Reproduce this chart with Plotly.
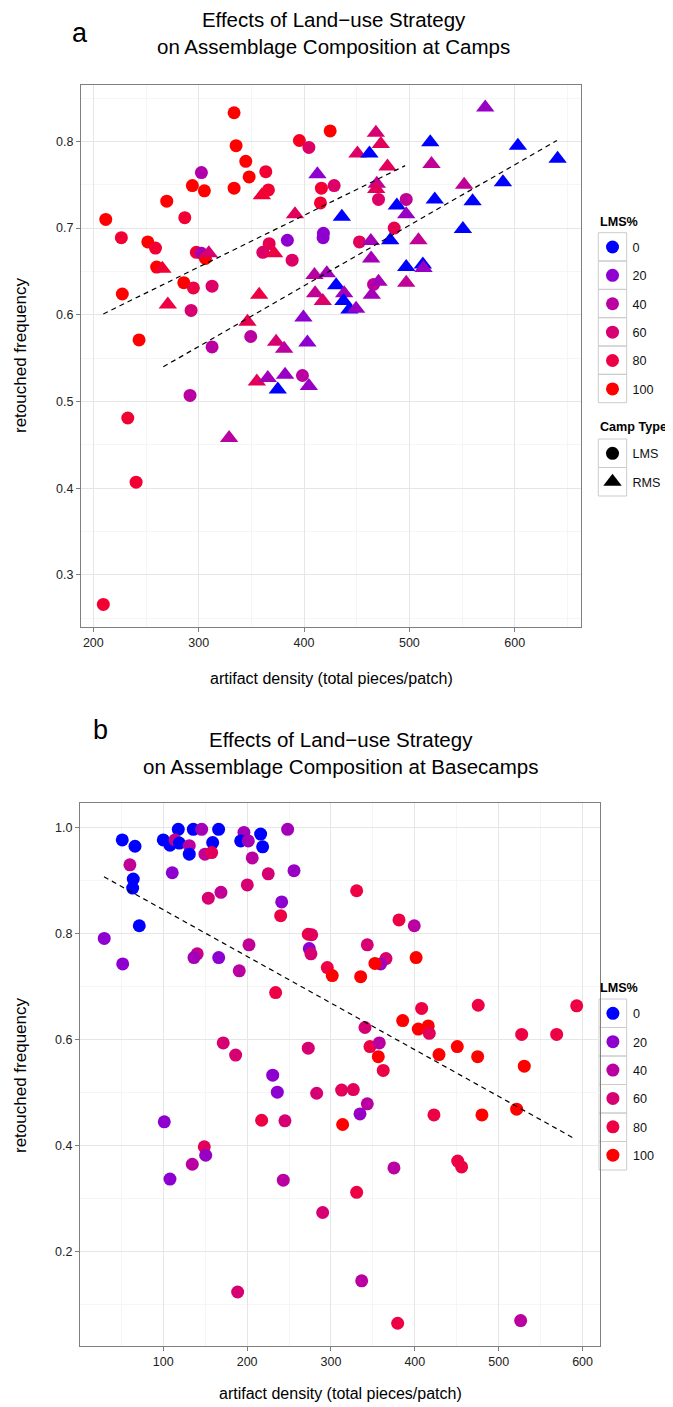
import plotly.graph_objects as go

# ---------------- data: panel a (camps) ----------------
# LMS camps (circles)
lms_x = [333.6, 395.6, 404.6, 424.8, 335.5, 344.7, 363.7, 347.9, 333.6, 366.2,
         302.6, 294.0, 305.4, 269.7, 211.8, 286.8, 226.6, 251.7, 259.0, 260.1,
         285.9, 295.0, 312.7, 227.5, 292.8, 243.4, 297.8, 302.6, 306.4, 366.9,
         360.9, 384.2, 388.7, 416.5, 415.6, 418.4, 418.1, 349.4, 312.7, 398.5,
         291.8, 232.7, 240.6, 209.5, 428.6, 470.7, 497.0, 485.6, 452.6, 466.0]
lms_y = [0.833, 0.801, 0.793, 0.812, 0.795, 0.777, 0.765, 0.759, 0.746, 0.744,
         0.764, 0.749, 0.743, 0.731, 0.710, 0.712, 0.689, 0.684, 0.677, 0.655,
         0.637, 0.631, 0.633, 0.624, 0.605, 0.571, 0.672, 0.671, 0.665, 0.682,
         0.672, 0.686, 0.663, 0.746, 0.729, 0.694, 0.689, 0.575, 0.563, 0.530,
         0.507, 0.481, 0.407, 0.266, 0.749, 0.733, 0.733, 0.700, 0.684, 0.635]
lms_pct = [100, 90, 65, 100, 100, 100, 85, 100, 100, 85,
           35, 100, 100, 100, 100, 85, 85, 100, 85, 100,
           100, 80, 65, 100, 60, 100, 85, 30, 100, 75,
           65, 20, 65, 85, 85, 20, 20, 40, 40, 40,
           40, 85, 85, 85, 65, 65, 45, 75, 70, 45]

# RMS camps (triangles)
rms_x = [360.0, 265.5, 309.6, 371.6, 357.4, 391.4, 412.7, 409.9, 421.6, 410.5,
         417.8, 346.3, 399.4, 373.5, 381.1, 403.2, 355.2, 365.6, 375.1, 382.0,
         404.6, 328.9, 270.7, 468.2, 472.9, 450.7, 462.1, 519.8, 572.0, 603.0,
         640.7, 479.2, 521.0, 469.1, 468.5, 488.1, 497.0, 552.0, 588.8, 524.1,
         560.0, 435.9, 550.8, 463.4, 481.8, 508.6, 463.7, 497.0, 512.8, 513.4,
         430.5, 438.1, 470.7, 497.0, 464.3, 437.4, 443.1, 449.4]
rms_y = [0.738, 0.653, 0.671, 0.671, 0.623, 0.716, 0.762, 0.646, 0.648, 0.625,
         0.616, 0.592, 0.597, 0.569, 0.561, 0.568, 0.523, 0.527, 0.514, 0.531,
         0.518, 0.458, 0.612, 0.810, 0.797, 0.786, 0.786, 0.799, 0.839, 0.795,
         0.780, 0.771, 0.774, 0.751, 0.745, 0.726, 0.716, 0.750, 0.753, 0.733,
         0.731, 0.713, 0.699, 0.685, 0.686, 0.686, 0.665, 0.655, 0.658, 0.654,
         0.634, 0.625, 0.638, 0.637, 0.623, 0.616, 0.606, 0.607]
rms_pct = [85, 85, 60, 80, 80, 70, 20, 40, 30, 45,
           65, 75, 20, 60, 40, 20, 70, 30, 0, 25,
           25, 40, 80, 60, 70, 65, 0, 0, 25, 0,
           0, 70, 45, 45, 70, 0, 25, 45, 0, 0,
           0, 0, 0, 30, 0, 45, 30, 0, 0, 25,
           0, 30, 30, 45, 30, 0, 0, 25]

# dashed trend lines, panel a
trend_lms_x = [209.5, 496.0]
trend_lms_y = [0.601, 0.772]
trend_rms_x = [266.4, 640.0]
trend_rms_y = [0.540, 0.801]

# ---------------- data: panel b (basecamps) ----------------
base_x = [51.1, 66.3, 60.2, 64.2, 63.5, 71.4, 29.6, 51.6, 100.0, 117.9,
          135.8, 145.8, 166.0, 108.0, 114.0, 119.1, 131.0, 131.0, 158.9, 149.7,
          157.7, 196.2, 192.3, 201.4, 216.1, 218.5, 206.1, 248.3, 110.7, 255.9,
          225.2, 168.8, 153.7, 200.2, 241.2, 240.0, 330.6, 272.9, 277.0, 274.1,
          276.1, 202.2, 140.5, 136.6, 166.1, 190.6, 295.6, 301.5, 335.4, 343.3,
          234.0, 340.5, 346.5, 171.5, 186.3, 272.9, 230.5, 381.1, 399.3, 365.6,
          359.2, 352.4, 401.5, 408.1, 475.6, 593.0, 385.5, 404.1, 416.0, 417.2,
          527.4, 569.1, 357.6, 356.4, 362.3, 428.8, 450.6, 474.9, 530.5, 422.8,
          480.0, 521.4, 375.1, 451.1, 455.8, 379.5, 526.2, 236.0, 282.9, 312.7,
          326.6, 343.3, 334.6, 313.9, 217.3, 245.1, 101.2, 148.9, 150.6, 134.6,
          108.0, 243.1, 330.6, 290.1, 336.6, 188.7]
base_y = [0.977, 0.965, 0.930, 0.903, 0.886, 0.815, 0.791, 0.743, 0.977, 0.997,
          0.997, 0.997, 0.997, 0.967, 0.977, 0.971, 0.966, 0.950, 0.972, 0.950,
          0.953, 0.991, 0.975, 0.975, 0.988, 0.964, 0.943, 0.997, 0.915, 0.919,
          0.913, 0.878, 0.867, 0.892, 0.860, 0.834, 0.881, 0.799, 0.798, 0.772,
          0.762, 0.779, 0.762, 0.755, 0.755, 0.730, 0.736, 0.721, 0.719, 0.779,
          0.689, 0.623, 0.587, 0.594, 0.571, 0.584, 0.533, 0.826, 0.815, 0.753,
          0.743, 0.744, 0.755, 0.659, 0.665, 0.664, 0.636, 0.620, 0.626, 0.612,
          0.610, 0.610, 0.594, 0.568, 0.542, 0.572, 0.587, 0.568, 0.550, 0.458,
          0.458, 0.469, 0.358, 0.371, 0.360, 0.065, 0.070, 0.501, 0.499, 0.505,
          0.506, 0.479, 0.460, 0.440, 0.448, 0.447, 0.445, 0.398, 0.382, 0.365,
          0.337, 0.335, 0.312, 0.274, 0.145, 0.124]
base_pct = [0, 0, 45, 0, 0, 0, 20, 20, 0, 0,
            0, 30, 0, 0, 50, 0, 40, 0, 0, 45,
            70, 30, 0, 30, 0, 0, 40, 30, 20, 25,
            60, 45, 60, 60, 20, 80, 80, 80, 70, 20,
            60, 45, 50, 30, 20, 40, 80, 100, 100, 60,
            80, 60, 80, 60, 60, 60, 20, 80, 40, 60,
            30, 100, 100, 80, 80, 80, 100, 100, 100, 70,
            80, 80, 40, 100, 80, 100, 100, 100, 100, 80,
            100, 100, 40, 80, 80, 80, 40, 20, 60, 70,
            70, 40, 25, 100, 80, 60, 20, 70, 25, 40,
            20, 40, 80, 60, 40, 60]

trend_base_x = [29.3, 589.7]
trend_base_y = [0.9075, 0.414]

# ---------------- labels / scales ----------------
lms_breaks = [0, 20, 40, 60, 80, 100]
camp_types = ["LMS", "RMS"]
x_ticks_a = [200, 300, 400, 500, 600]
y_ticks_a = [0.3, 0.4, 0.5, 0.6, 0.7, 0.8]
x_ticks_b = [100, 200, 300, 400, 500, 600]
y_ticks_b = [0.2, 0.4, 0.6, 0.8, 1.0]

# blue -> red gradient (Lab interpolation, as ggplot)
grad_colors = ["#0000FF", "#8D00CF", "#BA00A0", "#D70072", "#ED0044", "#FF0000"]
colorscale = [[i / 5, c] for i, c in enumerate(grad_colors)]

FONT = "Liberation Sans, Arial, Helvetica, sans-serif"
# the page body has an 8px margin; the figure fills the rest of the window
OFF = 8
W, H = 673 - OFF, 1407 - OFF


def px_x(p):
    return (p - OFF) / W


def px_y(p):
    return 1 - (p - OFF) / H


fig = go.Figure()

marker_common = dict(colorscale=colorscale, cmin=0, cmax=100, line=dict(width=0), opacity=1)

fig.add_trace(go.Scatter(x=lms_x, y=lms_y, mode="markers", showlegend=False,
                         marker=dict(symbol="circle", size=13, color=lms_pct, **marker_common),
                         xaxis="x", yaxis="y", hoverinfo="skip"))
fig.add_trace(go.Scatter(x=rms_x, y=rms_y, mode="markers", showlegend=False,
                         marker=dict(symbol="triangle-up", size=16, color=rms_pct, **marker_common),
                         xaxis="x", yaxis="y", hoverinfo="skip"))
for tx, ty in [(trend_lms_x, trend_lms_y), (trend_rms_x, trend_rms_y)]:
    fig.add_trace(go.Scatter(x=tx, y=ty, mode="lines", showlegend=False,
                             line=dict(color="black", width=1.2, dash="5px,4px"),
                             xaxis="x", yaxis="y", hoverinfo="skip"))

fig.add_trace(go.Scatter(x=base_x, y=base_y, mode="markers", showlegend=False,
                         marker=dict(symbol="circle", size=13, color=base_pct, **marker_common),
                         xaxis="x2", yaxis="y2", hoverinfo="skip"))
fig.add_trace(go.Scatter(x=trend_base_x, y=trend_base_y, mode="lines", showlegend=False,
                         line=dict(color="black", width=1.2, dash="5px,4px"),
                         xaxis="x2", yaxis="y2", hoverinfo="skip"))

# legend entries
for lg, ax, ay in [("legend", "x", "y"), ("legend3", "x2", "y2")]:
    for b, c in zip(lms_breaks, grad_colors):
        fig.add_trace(go.Scatter(x=[None], y=[None], mode="markers", name=str(b),
                                 marker=dict(symbol="circle", size=13, color=c),
                                 legend=lg, legendgroup=f"{lg}_{b}", showlegend=True,
                                 xaxis=ax, yaxis=ay))
for ct, sym, sz in zip(camp_types, ["circle", "triangle-up"], [13, 16]):
    fig.add_trace(go.Scatter(x=[None], y=[None], mode="markers", name=ct,
                             marker=dict(symbol=sym, size=sz, color="black"),
                             legend="legend2", legendgroup=f"ct_{ct}", showlegend=True,
                             xaxis="x", yaxis="y"))

grid_major = "#E6E6E6"
grid_minor = "#F5F5F5"
axis_common = dict(showline=True, linecolor="#7F7F7F", linewidth=1, mirror=True,
                   ticks="outside", ticklen=4, tickcolor="#7F7F7F", tickwidth=1,
                   showgrid=True, gridcolor=grid_major, gridwidth=1.1, zeroline=False,
                   tickfont=dict(family=FONT, size=12.5, color="#222222"))

fig.update_layout(
    width=W, height=H, margin=dict(l=0, r=0, t=0, b=0),
    paper_bgcolor="white", plot_bgcolor="white",
    font=dict(family=FONT, color="black"),
    xaxis=dict(domain=[px_x(81), px_x(581)], range=[188.3, 662.9], anchor="y",
               tickvals=x_ticks_a, ticktext=[str(v) for v in x_ticks_a],
               minor=dict(dtick=50, tick0=0, showgrid=True, gridcolor=grid_minor, gridwidth=0.8, ticklen=0),
               **axis_common),
    yaxis=dict(domain=[px_y(627), px_y(85)], range=[0.240, 0.865], anchor="x",
               tickvals=y_ticks_a, ticktext=[f"{v:.1f}" for v in y_ticks_a],
               minor=dict(dtick=0.05, tick0=0, showgrid=True, gridcolor=grid_minor, gridwidth=0.8, ticklen=0),
               **axis_common),
    xaxis2=dict(domain=[px_x(80), px_x(600)], range=[0.7, 620.8], anchor="y2",
                tickvals=x_ticks_b, ticktext=[str(v) for v in x_ticks_b],
                minor=dict(dtick=50, tick0=0, showgrid=True, gridcolor=grid_minor, gridwidth=0.8, ticklen=0),
                **axis_common),
    yaxis2=dict(domain=[px_y(1346), px_y(803)], range=[0.0221, 1.0466], anchor="x2",
                tickvals=y_ticks_b, ticktext=[f"{v:.1f}" for v in y_ticks_b],
                minor=dict(dtick=0.1, tick0=0, showgrid=True, gridcolor=grid_minor, gridwidth=0.8, ticklen=0),
                **axis_common),
    legend=dict(x=px_x(592.5), y=px_y(232.3), xanchor="left", yanchor="top",
                bgcolor="rgba(0,0,0,0)", borderwidth=0, tracegroupgap=9,
                font=dict(family=FONT, size=12.6, color="#111111")),
    legend2=dict(x=px_x(592.5), y=px_y(438.6), xanchor="left", yanchor="top",
                 bgcolor="rgba(0,0,0,0)", borderwidth=0, tracegroupgap=9,
                 font=dict(family=FONT, size=12.6, color="#111111")),
    legend3=dict(x=px_x(592.9), y=px_y(998.6), xanchor="left", yanchor="top",
                 bgcolor="rgba(0,0,0,0)", borderwidth=0, tracegroupgap=9,
                 font=dict(family=FONT, size=12.6, color="#111111")),
)

# legend key boxes (ggplot style)
shapes = []
for x0, x1, y0, n, hgt in [(598.3, 626.7, 232.7, 6, 28.33), (598.3, 626.7, 439.0, 2, 28.5),
                           (599.0, 626.7, 999.0, 6, 28.5)]:
    for i in range(n):
        shapes.append(dict(type="rect", xref="paper", yref="paper",
                           x0=px_x(x0), x1=px_x(x1),
                           y0=px_y(y0 + i * hgt), y1=px_y(y0 + (i + 1) * hgt),
                           line=dict(color="#CCCCCC", width=1), fillcolor="rgba(0,0,0,0)",
                           layer="below"))
fig.update_layout(shapes=shapes)

ann = []


def add_text(text, x, y, size, bold=False, xanchor="center", angle=0):
    ann.append(dict(text=f"<b>{text}</b>" if bold else text, x=px_x(x), y=px_y(y),
                    xref="paper", yref="paper", xanchor=xanchor, yanchor="middle",
                    showarrow=False, textangle=angle,
                    font=dict(family=FONT, size=size, color="black")))


add_text("Effects of Land\u2212use Strategy<br>on Assemblage Composition at Camps", 333, 33, 20.5)
add_text("a", 80, 33, 27)
add_text("artifact density (total pieces/patch)", 331, 678, 16)
add_text("retouched frequency", 20, 356, 17, angle=-90)
add_text("LMS%", 598, 221.5, 12.6, bold=True, xanchor="left")
add_text("Camp Type", 598, 427.3, 12.6, bold=True, xanchor="left")

add_text("Effects of Land\u2212use Strategy<br>on Assemblage Composition at Basecamps", 340, 753, 20.5)
add_text("b", 100, 730, 27)
add_text("artifact density (total pieces/patch)", 340, 1393, 16)
add_text("retouched frequency", 20, 1076, 17, angle=-90)
add_text("LMS%", 598, 988, 12.6, bold=True, xanchor="left")

fig.update_layout(annotations=ann)

fig.write_html("out.html")
